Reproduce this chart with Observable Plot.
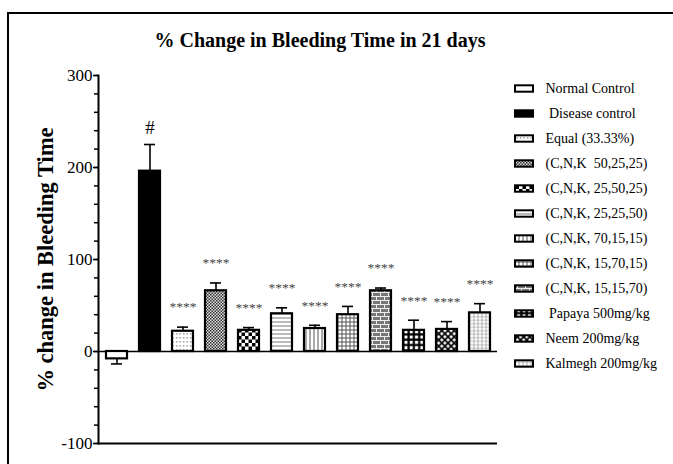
<!DOCTYPE html>
<html><head><meta charset="utf-8">
<script src="https://cdn.jsdelivr.net/npm/d3@7"></script>
<script src="https://cdn.jsdelivr.net/npm/@observablehq/plot@0.6"></script>
<style>
html,body{margin:0;padding:0;background:#fff;}
#wrap{position:relative;width:673px;height:464px;overflow:hidden;background:#fff;font-family:"Liberation Serif","Times New Roman",serif;}
#border{position:absolute;left:7px;top:12px;width:700px;height:500px;border-top:2.5px solid #000;border-left:2.5px solid #000;}
#title{position:absolute;left:120px;width:400px;top:28px;text-align:center;font-weight:bold;font-size:20px;line-height:24px;color:#000;}
#chart{position:absolute;left:0;top:0;}
#legend{position:absolute;left:505px;top:0;}
svg text{white-space:pre;}
</style></head><body>
<svg width="0" height="0" style="position:absolute">
<defs>
<pattern id="pEqual" patternUnits="userSpaceOnUse" width="3.5" height="4"><rect width="3.5" height="4" fill="#fff"/><rect x="1" y="1.2" width="1.3" height="1.3" fill="#777"/></pattern>
<pattern id="pC50" patternUnits="userSpaceOnUse" width="3" height="3"><rect width="3" height="3" fill="#ddd"/><rect width="1.5" height="1.5" fill="#333"/><rect x="1.5" y="1.5" width="1.5" height="1.5" fill="#333"/></pattern>
<pattern id="pN50" patternUnits="userSpaceOnUse" width="7" height="7"><rect width="7" height="7" fill="#fff"/><rect width="3.5" height="3.5" fill="#000"/><rect x="3.5" y="3.5" width="3.5" height="3.5" fill="#000"/></pattern>
<pattern id="pK50" patternUnits="userSpaceOnUse" width="4" height="4"><rect width="4" height="4" fill="#fff"/><rect y="1.5" width="4" height="1" fill="#777"/></pattern>
<pattern id="pC70" patternUnits="userSpaceOnUse" width="4" height="4"><rect width="4" height="4" fill="#fff"/><rect x="1.5" width="1" height="4" fill="#555"/></pattern>
<pattern id="pN70" patternUnits="userSpaceOnUse" width="4" height="4"><rect width="4" height="4" fill="#fff"/><rect x="1.5" width="1" height="4" fill="#555"/><rect y="1.5" width="4" height="1" fill="#555"/></pattern>
<pattern id="pK70" patternUnits="userSpaceOnUse" width="8" height="8"><rect width="8" height="8" fill="#777"/><rect width="8" height="1" fill="#eee"/><rect y="4" width="8" height="1" fill="#eee"/><rect width="1" height="4" fill="#eee"/><rect x="4" y="4" width="1" height="4" fill="#eee"/></pattern>
<pattern id="pPapaya" patternUnits="userSpaceOnUse" width="5.3" height="5.3"><rect width="5.3" height="5.3" fill="#000"/><rect x="1.6" y="1.6" width="3.1" height="3.1" fill="#fff"/></pattern>
<pattern id="pNeem" patternUnits="userSpaceOnUse" width="4.4" height="4.4" patternTransform="rotate(45)"><rect width="4.4" height="4.4" fill="#000"/><rect x="1.4" y="1.4" width="2.7" height="2.7" fill="#fff"/></pattern>
<pattern id="pKalmegh" patternUnits="userSpaceOnUse" width="4" height="3.5"><rect width="4" height="3.5" fill="#fff"/><circle cx="2" cy="1.75" r="1.1" fill="none" stroke="#999" stroke-width="0.8"/></pattern>
</defs>
</svg>
<div id="wrap"><div id="chart"></div><div id="legend"></div><div id="title">% Change in Bleeding Time in 21 days</div><div id="border"></div></div>
<script>
// ---- data ----
const groups = ["Normal Control", " Disease control", "Equal (33.33%)", "(C,N,K  50,25,25)", "(C,N,K, 25,50,25)", "(C,N,K, 25,25,50)", "(C,N,K, 70,15,15)", "(C,N,K, 15,70,15)", "(C,N,K, 15,15,70)", " Papaya 500mg/kg", "Neem 200mg/kg", "Kalmegh 200mg/kg"];
const means = [-8, 196, 22, 66, 23, 41, 25, 40, 66, 23, 24, 42];
const sems = [5.5, 29, 4.5, 8.5, 3, 6.5, 3.5, 9, 3, 11, 8.5, 10];
const sigMarks = ["", "#", "****", "****", "****", "****", "****", "****", "****", "****", "****", "****"];
const yTicks = [-100, 0, 100, 200, 300];
const yMinorTicks = d3.range(-100, 301, 20);
const patternFills = ["white", "black", "url(#pEqual)", "url(#pC50)", "url(#pN50)", "url(#pK50)", "url(#pC70)", "url(#pN70)", "url(#pK70)", "url(#pPapaya)", "url(#pNeem)", "url(#pKalmegh)"];
const titleText = "% Change in Bleeding Time in 21 days";
const yLabel = "% change in Bleeding Time";

const data = groups.map((g, i) => ({group: g, mean: means[i], sem: sems[i], end: means[i] + Math.sign(means[i]) * sems[i], mark: sigMarks[i]}));
const color = {type: "ordinal", domain: groups, range: patternFills};

const chart = Plot.plot({
  width: 673, height: 464,
  marginLeft: 98, marginRight: 176, marginTop: 75, marginBottom: 21,
  style: {fontFamily: "Liberation Serif", fontSize: "17px", background: "transparent", color: "#000"},
  x: {domain: groups, paddingInner: 0.367, paddingOuter: 0.2, axis: null},
  y: {domain: [-100, 300]},
  color,
  marks: [
    Plot.axisY(yMinorTicks, {tickSize: 4, tickFormat: () => "", strokeWidth: 1.5, label: null}),
    Plot.axisY(yTicks, {tickSize: 5, tickPadding: 1, strokeWidth: 1.5, label: null, tickFormat: d => String(d)}),
    Plot.frame({anchor: "left", strokeWidth: 2}),
    Plot.ruleY([0], {strokeWidth: 1.3}),
    Plot.ruleY([-100], {strokeWidth: 2}),
    Plot.ruleX(data, {x: "group", y1: "mean", y2: "end", strokeWidth: 1.6}),
    Plot.tickY(data, {x: "group", y: "end", strokeWidth: 1.6, insetLeft: 5, insetRight: 5}),
    Plot.barY(data, {x: "group", y: "mean", fill: "group", stroke: "black", strokeWidth: 2.2}),
    Plot.text(data.filter(d => d.mark === "****"), {x: "group", y: "end", text: "mark", dy: -20, fontSize: 13.5, fill: "#444"}),
    Plot.text(data.filter(d => d.mark === "#"), {x: "group", y: "end", text: "mark", dy: -17, fontSize: 19}),
    Plot.text([yLabel], {frameAnchor: "left", textAnchor: "middle", rotate: -90, dx: -53, text: d => d, fontSize: 22.5, fontWeight: "bold"})
  ]
});
document.getElementById("chart").appendChild(chart);

const legend = Plot.plot({
  width: 168, height: 464,
  marginLeft: 10, marginRight: 140, marginTop: 72.7, marginBottom: 84.7,
  style: {fontFamily: "Liberation Serif", fontSize: "14px", background: "transparent", color: "#000"},
  x: {domain: [0, 1], axis: null},
  y: {domain: groups, padding: 0, axis: null},
  color,
  marks: [
    Plot.barX(groups, {y: d => d, x1: 0, x2: 1, fill: d => d, stroke: "black", strokeWidth: 2, insetTop: 9.3, insetBottom: 9.3}),
    Plot.text(groups, {y: d => d, x: 1, text: d => d, textAnchor: "start", dx: 12})
  ]
});
document.getElementById("legend").appendChild(legend);
document.getElementById("title").textContent = titleText;
</script>
</body></html>
